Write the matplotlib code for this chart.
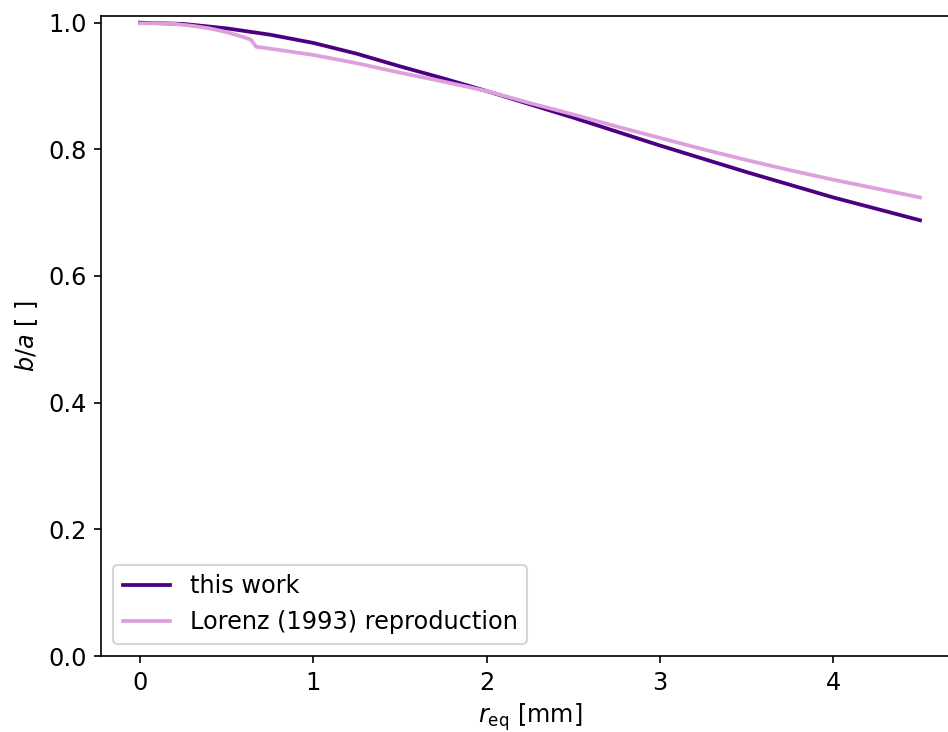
import matplotlib
matplotlib.use("Agg")
import matplotlib.pyplot as plt

# b/a vs equivalent radius
r_this = [0.0, 0.25, 0.5, 0.75, 1.0, 1.25, 1.5, 1.75, 2.0, 2.25, 2.5,
          2.75, 3.0, 3.25, 3.5, 3.75, 4.0, 4.25, 4.5]
ba_this = [1.0, 0.998, 0.991, 0.981, 0.968, 0.951, 0.931, 0.912, 0.892,
           0.871, 0.850, 0.828, 0.806, 0.785, 0.764, 0.744, 0.724, 0.706, 0.688]

r_lorenz = [0.0, 0.1, 0.2, 0.3, 0.4, 0.5, 0.6, 0.64, 0.67, 0.8, 1.0, 1.25,
            1.5, 1.75, 2.0, 2.25, 2.5, 2.75, 3.0, 3.25, 3.5, 3.75, 4.0, 4.25, 4.5]
ba_lorenz = [0.999, 0.999, 0.998, 0.995, 0.991, 0.985, 0.977, 0.973, 0.962,
             0.957, 0.949, 0.936, 0.921, 0.907, 0.892, 0.873, 0.855, 0.836,
             0.818, 0.800, 0.783, 0.767, 0.752, 0.738, 0.724]

plt.rcParams["font.size"] = 11.5

fig = plt.figure(figsize=(948 / 150, 732 / 150), dpi=150)
ax = fig.add_axes([101 / 948, 76 / 732, 858 / 948, 640 / 732])

ax.plot(r_this, ba_this, color="indigo", lw=1.8, label="this work")
ax.plot(r_lorenz, ba_lorenz, color="plum", lw=1.8, label="Lorenz (1993) reproduction")

ax.set_xlim(-0.225, 4.725)
ax.set_ylim(0, 1.0105)
ax.set_xlabel(r"$r_{\rm eq}$ [mm]", labelpad=3)
ax.set_ylabel(r"$b/a$ [ ]")
ax.legend(loc="lower left")

fig.savefig("out.png", dpi=150)
